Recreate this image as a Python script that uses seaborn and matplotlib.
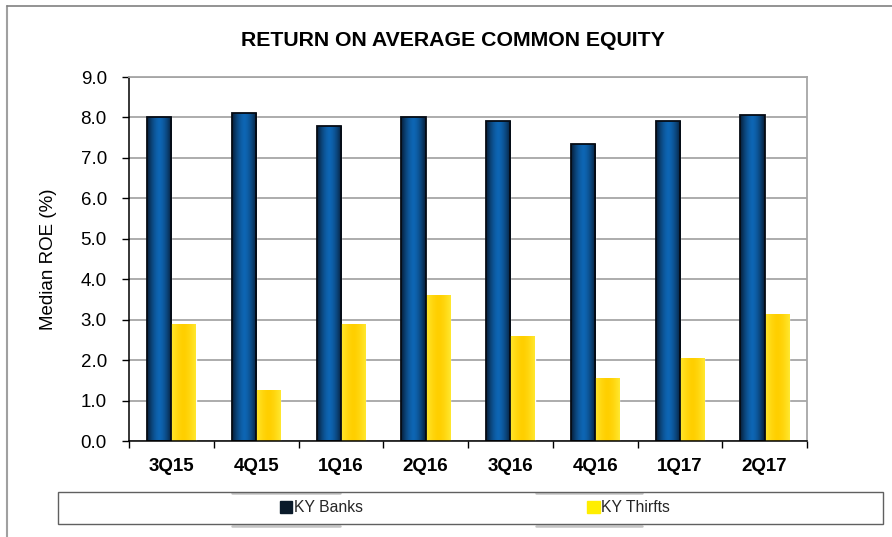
import numpy as np
import pandas as pd
import matplotlib
matplotlib.use("Agg")
import matplotlib.pyplot as plt
import seaborn as sns
from matplotlib.patches import Rectangle, Patch
from matplotlib.lines import Line2D
from matplotlib.colors import to_rgb

# ---- data ----
quarters = ["3Q15", "4Q15", "1Q16", "2Q16", "3Q16", "4Q16", "1Q17", "2Q17"]
ky_banks = [8.0, 8.1, 7.8, 8.0, 7.9, 7.35, 7.9, 8.05]
ky_thrifts = [2.9, 1.25, 2.9, 3.6, 2.6, 1.55, 2.05, 3.15]
series = ["KY Banks", "KY Thirfts"]
y_ticks = [0, 1, 2, 3, 4, 5, 6, 7, 8, 9]
title = "RETURN ON AVERAGE COMMON EQUITY"
y_label = "Median ROE (%)"

bank_color = "#0b5aa0"
thrift_color = "#ffd400"

sns.set_theme(style="white")
plt.rcParams['font.family'] = ['Liberation Sans', 'DejaVu Sans']

fig = plt.figure(figsize=(8.92, 5.37), dpi=100)
ax = fig.add_axes([129/892, 1-441/537, (807-129)/892, (441-77)/537])

df = pd.DataFrame({
    "Quarter": quarters * 2,
    "ROE": ky_banks + ky_thrifts,
    "Series": [series[0]] * len(quarters) + [series[1]] * len(quarters),
})
sns.barplot(data=df, x="Quarter", y="ROE", hue="Series", order=quarters,
            hue_order=series, palette=[bank_color, thrift_color], width=0.57,
            gap=0, ax=ax, legend=False, errorbar=None, saturation=1)

# gradients on bars
def grad_img(edge, mid, n=64):
    e = np.array(to_rgb(edge)); m = np.array(to_rgb(mid))
    t = np.abs(np.linspace(-1, 1, n)) ** 1.6
    return (m[None, :] * (1 - t[:, None]) + e[None, :] * t[:, None])[None, :, :]

bank_img = grad_img("#071d36", "#0e66b4")
thrift_img = grad_img("#ffe830", "#ffcf00")
bank_rgb = np.array(to_rgb(bank_color))
for p in list(ax.patches):
    x0, y0 = p.get_x(), p.get_y()
    w, h = p.get_width(), p.get_height()
    if h == 0:
        continue
    is_bank = np.allclose(np.array(p.get_facecolor()[:3]), bank_rgb, atol=0.02)
    img = bank_img if is_bank else thrift_img
    im = ax.imshow(img, extent=[x0, x0 + w, y0, y0 + h], aspect='auto',
                   zorder=p.get_zorder() + 0.1, interpolation='bilinear')
    im.set_clip_path(p)
    if is_bank:
        ax.add_patch(Rectangle((x0, y0), w, h, fill=False, edgecolor="#050b14",
                               lw=1.3, zorder=p.get_zorder() + 0.2))

ax.set_xlim(-0.5, len(quarters) - 0.5)
ax.set_ylim(0, 9)
ax.set_yticks(y_ticks)
ax.set_yticklabels([f"{v:.1f}" for v in y_ticks])
ax.yaxis.grid(True, color="#a6a6a6", lw=1.3)
ax.xaxis.grid(False)
ax.set_axisbelow(True)

for s in ["left", "bottom"]:
    ax.spines[s].set_color("black")
    ax.spines[s].set_linewidth(1.1)
for s in ["right", "top"]:
    ax.spines[s].set_color("#a6a6a6")
    ax.spines[s].set_linewidth(1.3)

ax.tick_params(axis='y', left=True, length=5, width=1, color='black',
               labelsize=13.5, pad=11, labelcolor='black')
ax.set_xticks(np.arange(-0.5, len(quarters), 1), minor=True)
ax.tick_params(axis='x', which='major', length=0, labelsize=13.5, pad=12,
               labelcolor='black')
ax.tick_params(axis='x', which='minor', bottom=True, length=5, width=1,
               color='black')
for lab in ax.get_xticklabels():
    lab.set_fontweight('bold')

ax.set_xlabel("")
ax.set_ylabel(y_label, fontsize=13.5, labelpad=17, color='black')

fig.text(453/892, 1-41/537, title, ha='center', va='center',
         fontsize=15.3, fontweight='bold', color='black')

# outer frame (left and top edges)
fig.add_artist(Line2D([7/892, 7/892], [0, 1-6/537], transform=fig.transFigure,
                      color="#a0a0a0", lw=1.5))
fig.add_artist(Line2D([7/892, 1], [1-6/537, 1-6/537], transform=fig.transFigure,
                      color="#808080", lw=1.2))

# faint grey strokes along the legend box edges
for xa, xb in [(232, 340), (536, 642)]:
    for yy in (492.5, 525.5):
        fig.add_artist(Line2D([xa/892, xb/892], [1-yy/537, 1-yy/537],
                              transform=fig.transFigure, color="#c4c4c4",
                              lw=1.8, zorder=0))

# legend box
fig.add_artist(Rectangle((58/892, 1-524/537), 825/892, 32/537,
                         transform=fig.transFigure, fill=False,
                         edgecolor="#606060", lw=1, zorder=1))
handles = [Patch(facecolor="#0a1a2a", edgecolor="#0a1a2a"),
           Patch(facecolor="#ffee00", edgecolor="#ffee00")]
fig.legend(handles=handles, labels=series, loc='center',
           bbox_to_anchor=(475/892, 1-508/537), ncol=2, frameon=False,
           fontsize=11.3, handlelength=0.8, handleheight=0.8,
           handletextpad=0.1, columnspacing=14.3)

fig.savefig("out.png", dpi=100)
